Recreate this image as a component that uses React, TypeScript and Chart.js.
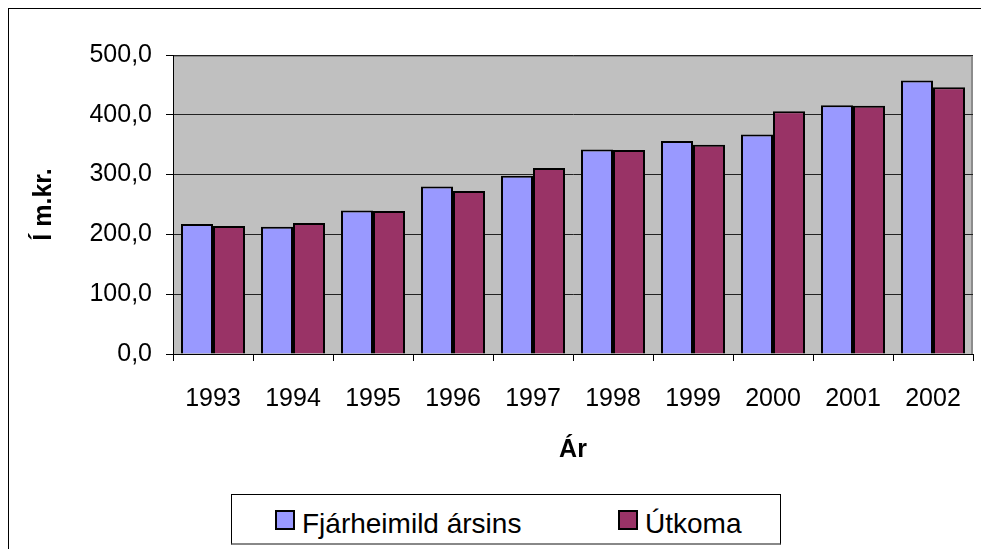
import React, { useEffect, useRef } from 'react';
import { Chart, registerables } from 'chart.js';

Chart.register(...registerables);

const years = ['1993', '1994', '1995', '1996', '1997', '1998', '1999', '2000', '2001', '2002'];
const fjarheimild = [217.5, 213, 240, 280, 298, 342, 356, 367, 416, 457.5];
const utkoma = [214, 219, 239, 272.5, 311, 341, 350, 406, 415, 446];
const seriesNames = ['Fjárheimild ársins', 'Útkoma'];
const seriesColors = ['#9999FF', '#993366'];
const yMin = 0;
const yMax = 500;
const yStep = 100;
const yTitle = 'Í m.kr.';
const xTitle = 'Ár';

const FONT = "'Liberation Sans', Arial, Helvetica, sans-serif";

const plotBg = {
  id: 'plotBg',
  beforeDraw(chart: any) {
    const { ctx, chartArea: a } = chart;
    ctx.save();
    ctx.fillStyle = '#C0C0C0';
    ctx.fillRect(a.left, a.top, a.right - a.left, a.bottom - a.top);
    ctx.strokeStyle = '#8c8c8c';
    ctx.lineWidth = 2;
    ctx.beginPath();
    ctx.moveTo(a.left, a.top + 1);
    ctx.lineTo(a.right - 1, a.top + 1);
    ctx.lineTo(a.right - 1, a.bottom);
    ctx.stroke();
    ctx.restore();
  },
};

export default function App() {
  const ref = useRef<HTMLCanvasElement | null>(null);

  useEffect(() => {
    document.documentElement.style.overflow = 'hidden';
    const canvas = ref.current;
    if (!canvas) return;
    const chart = new Chart(canvas, {
      type: 'bar',
      data: {
        labels: years,
        datasets: [
          {
            label: seriesNames[0],
            data: fjarheimild,
            backgroundColor: seriesColors[0],
            borderColor: '#000',
            borderWidth: 2,
            categoryPercentage: 0.8,
            barPercentage: 1.0,
          },
          {
            label: seriesNames[1],
            data: utkoma,
            backgroundColor: seriesColors[1],
            borderColor: '#000',
            borderWidth: 2,
            categoryPercentage: 0.8,
            barPercentage: 1.0,
          },
        ],
      },
      options: {
        responsive: false,
        animation: false,
        devicePixelRatio: 1,
        layout: { padding: { left: 0, right: 16, top: 46, bottom: 75 } },
        plugins: {
          legend: { display: false },
          tooltip: { enabled: false },
        },
        scales: {
          x: {
            grid: {
              offset: true,
              drawOnChartArea: false,
              drawTicks: true,
              tickLength: 7,
              tickColor: '#000',
            },
            border: { display: true, color: '#000', width: 1 },
            ticks: {
              color: '#000',
              font: { family: FONT, size: 25 },
              padding: 23,
              maxRotation: 0,
              autoSkip: false,
            },
            title: {
              display: true,
              text: xTitle,
              color: '#000',
              font: { family: FONT, size: 25, weight: 'bold' },
              padding: { top: 0, bottom: 9 },
            },
            afterFit(s: any) {
              s.height = 120;
            },
          },
          y: {
            min: yMin,
            max: yMax,
            grid: {
              color: '#222',
              lineWidth: 1,
              drawTicks: true,
              tickLength: 7,
              tickColor: '#000',
            },
            border: { display: true, color: '#000', width: 1 },
            ticks: {
              stepSize: yStep,
              color: '#000',
              font: { family: FONT, size: 25 },
              padding: 14,
              callback: (v: any) => Number(v).toFixed(1).replace('.', ','),
            },
            title: {
              display: true,
              text: yTitle,
              color: '#000',
              font: { family: FONT, size: 25, weight: 'bold' },
              padding: { top: 20, bottom: 0 },
            },
            afterFit(s: any) {
              s.width = 164;
            },
          },
        },
      },
      plugins: [plotBg],
    });
    return () => chart.destroy();
  }, []);

  const swatchLeft = [43, 386];
  const textLeft = [70, 413];

  return (
    <div
      style={{
        position: 'relative',
        width: 981,
        height: 541,
        boxSizing: 'border-box',
        borderTop: '1px solid #000',
        borderLeft: '1px solid #000',
        fontFamily: FONT,
      }}
    >
      <canvas
        ref={ref}
        width={980}
        height={540}
        style={{ position: 'absolute', left: 0, top: 0, width: 980, height: 540 }}
      />
      <div
        style={{
          position: 'absolute',
          left: 222,
          top: 485,
          width: 550,
          height: 51,
          boxSizing: 'border-box',
          border: '1px solid #000',
          borderBottom: '2px solid #888',
          background: '#fff',
        }}
      >
        {seriesNames.map((name, i) => (
          <React.Fragment key={name}>
            <div
              style={{
                position: 'absolute',
                left: swatchLeft[i],
                top: 15,
                width: 16,
                height: 16,
                background: seriesColors[i],
                border: '2px solid #000',
              }}
            />
            <span
              style={{
                position: 'absolute',
                left: textLeft[i],
                top: 13,
                fontSize: 28,
                lineHeight: 'normal',
                color: '#000',
                whiteSpace: 'nowrap',
              }}
            >
              {name}
            </span>
          </React.Fragment>
        ))}
      </div>
    </div>
  );
}
